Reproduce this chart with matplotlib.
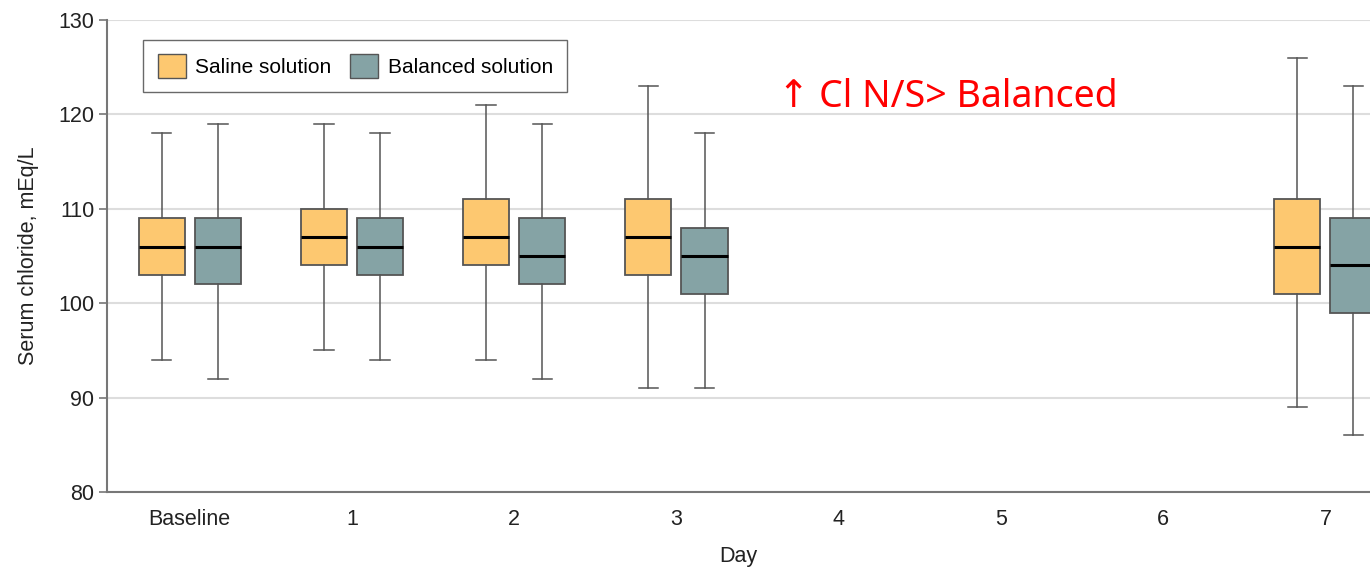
import matplotlib.pyplot as plt
from matplotlib.patches import Patch

# data (serum chloride, mEq/L)
days = ["Baseline", "1", "2", "3", "4", "5", "6", "7"]
box_pos = [0, 1, 2, 3, 7]          # days with data

saline_low = [94, 95, 94, 91, 89]
saline_q1 = [103, 104, 104, 103, 101]
saline_med = [106, 107, 107, 107, 106]
saline_q3 = [109, 110, 111, 111, 111]
saline_high = [118, 119, 121, 123, 126]

balanced_low = [92, 94, 92, 91, 86]
balanced_q1 = [102, 103, 102, 101, 99]
balanced_med = [106, 106, 105, 105, 104]
balanced_q3 = [109, 109, 109, 108, 109]
balanced_high = [119, 118, 119, 118, 123]

saline_color = "#FDC870"
balanced_color = "#85A3A5"
edge = "#555555"

plt.rcParams['font.family'] = ['Liberation Sans', 'DejaVu Sans']


def make_stats(low, q1, med, q3, high):
    stats = []
    for a, b, c, d, e in zip(low, q1, med, q3, high):
        stats.append(dict(whislo=a, q1=b, med=c, q3=d, whishi=e, fliers=[]))
    return stats


fig = plt.figure(figsize=(13.7, 5.7), dpi=100)
ax = fig.add_axes([0.0781, 0.1368, 0.9219, 0.8281])

off = 0.173
w = 0.284
groups = [
    (make_stats(saline_low, saline_q1, saline_med, saline_q3, saline_high), -off, saline_color),
    (make_stats(balanced_low, balanced_q1, balanced_med, balanced_q3, balanced_high), off, balanced_color),
]
for stats, dx, col in groups:
    ax.bxp(stats, positions=[p + dx for p in box_pos], widths=w,
           patch_artist=True, showfliers=False, manage_ticks=False,
           boxprops=dict(facecolor=col, edgecolor=edge, linewidth=1.3),
           medianprops=dict(color="black", linewidth=2.2),
           whiskerprops=dict(color=edge, linewidth=1.1),
           capprops=dict(color=edge, linewidth=1.1),
           capwidths=0.12, zorder=3)

ax.set_xlim(-0.51, 7.275)
ax.set_ylim(80, 130)
ax.set_xticks(range(len(days)))
ax.set_xticklabels(days)
ax.set_yticks([80, 90, 100, 110, 120, 130])
ax.tick_params(axis='x', length=0, labelsize=15.5, pad=12, colors="#222222")
ax.tick_params(axis='y', length=6, width=1.2, labelsize=15.5, pad=3, colors="#222222")
ax.tick_params(axis='y', color="#777777")

ax.yaxis.grid(True, color="#dddddd", linewidth=1.5, zorder=0)
ax.set_axisbelow(True)
for s in ["top", "right"]:
    ax.spines[s].set_visible(False)
for s in ["left", "bottom"]:
    ax.spines[s].set_color("#777777")
    ax.spines[s].set_linewidth(1.5)

ax.set_xlabel("Day", fontsize=15.5, labelpad=12, color="#222222")
ax.set_ylabel("Serum chloride, mEq/L", fontsize=15.5, labelpad=14, color="#222222")

handles = [Patch(facecolor=saline_color, edgecolor=edge, label="Saline solution"),
           Patch(facecolor=balanced_color, edgecolor=edge, label="Balanced solution")]
leg = ax.legend(handles=handles, loc="upper left", bbox_to_anchor=(0.0285, 0.958),
                ncol=2, fontsize=15, frameon=True, fancybox=False,
                handlelength=1.35, handleheight=1.35, handletextpad=0.45,
                columnspacing=0.9, borderpad=0.7, borderaxespad=0)
leg.get_frame().set_edgecolor("#444444")
leg.get_frame().set_linewidth(1.0)

ax.text(3.625, 121.8, "↑ Cl N/S> Balanced", color="red", fontsize=27,
        ha="left", va="center", family=['Noto Sans', 'DejaVu Sans'])

fig.savefig("out.png", dpi=100)
